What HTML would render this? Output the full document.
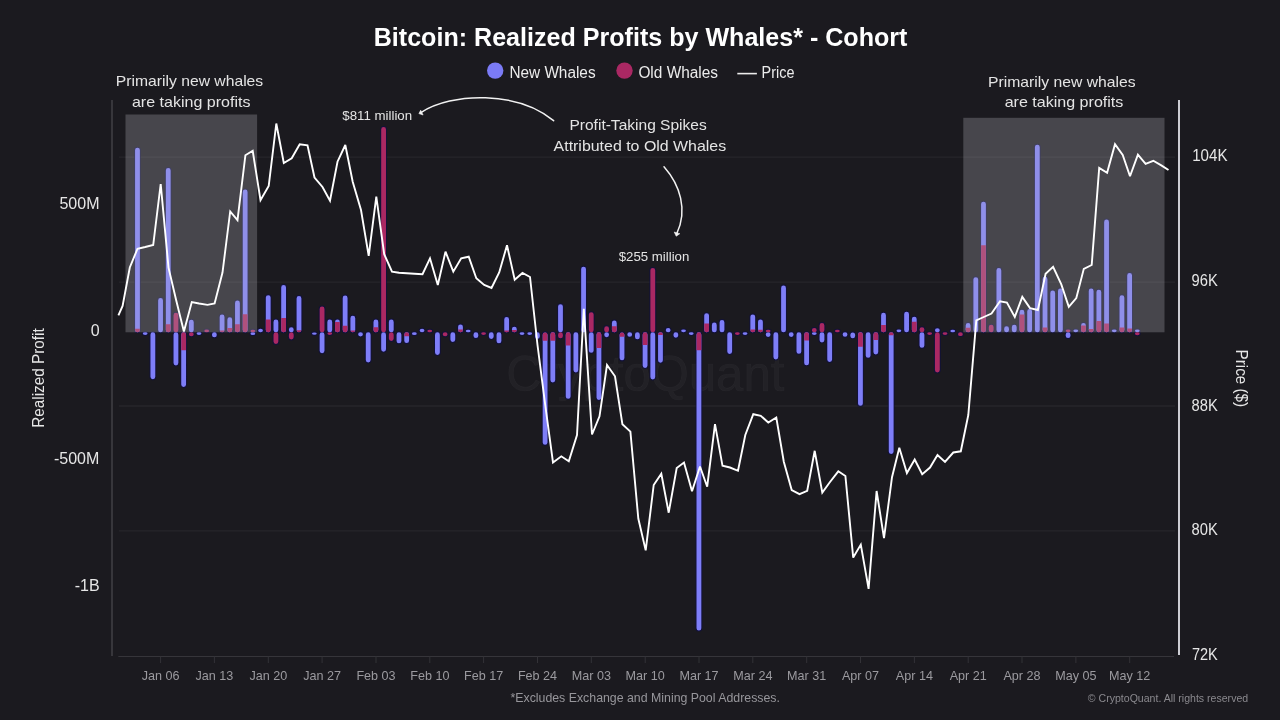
<!DOCTYPE html>
<html><head><meta charset="utf-8"><style>
html,body{margin:0;padding:0;background:#1b1a1f;}
svg{display:block;will-change:transform;}
text{font-family:"Liberation Sans", sans-serif;}
.xl{font-size:12.6px;fill:#9b9a9f;}
.yl{font-size:16px;fill:#e6e6e6;}
.an{font-size:15px;fill:#e4e4e4;}
</style></head><body>
<svg width="1280" height="720" viewBox="0 0 1280 720">
<rect width="1280" height="720" fill="#1b1a1f"/>
<!-- watermark -->
<text x="645.3" y="390.5" text-anchor="middle" font-size="50" fill="#ffffff" fill-opacity="0.03" stroke="#ffffff" stroke-opacity="0.03" stroke-width="0.7" textLength="278" lengthAdjust="spacingAndGlyphs">CryptoQuant</text>
<!-- gridlines -->
<g stroke="#232227" stroke-width="1.8">
<line x1="119" y1="157.2" x2="1175" y2="157.2"/>
<line x1="119" y1="282.1" x2="1175" y2="282.1"/>
<line x1="119" y1="406.0" x2="1175" y2="406.0"/>
<line x1="119" y1="530.8" x2="1175" y2="530.8"/>
</g>
<!-- axes -->
<line x1="112" y1="100" x2="112" y2="656" stroke="#3f3e43" stroke-width="1.6"/>
<line x1="1179" y1="100" x2="1179" y2="655" stroke="#e2e2e8" stroke-width="1.8"/>
<line x1="118.3" y1="656.5" x2="1174" y2="656.5" stroke="#36353a" stroke-width="1"/>
<line x1="160.6" y1="656.5" x2="160.6" y2="663" stroke="#333237" stroke-width="1"/><text x="160.6" y="679.8" text-anchor="middle" class="xl">Jan 06</text><line x1="214.4" y1="656.5" x2="214.4" y2="663" stroke="#333237" stroke-width="1"/><text x="214.4" y="679.8" text-anchor="middle" class="xl">Jan 13</text><line x1="268.3" y1="656.5" x2="268.3" y2="663" stroke="#333237" stroke-width="1"/><text x="268.3" y="679.8" text-anchor="middle" class="xl">Jan 20</text><line x1="322.1" y1="656.5" x2="322.1" y2="663" stroke="#333237" stroke-width="1"/><text x="322.1" y="679.8" text-anchor="middle" class="xl">Jan 27</text><line x1="376.0" y1="656.5" x2="376.0" y2="663" stroke="#333237" stroke-width="1"/><text x="376.0" y="679.8" text-anchor="middle" class="xl">Feb 03</text><line x1="429.8" y1="656.5" x2="429.8" y2="663" stroke="#333237" stroke-width="1"/><text x="429.8" y="679.8" text-anchor="middle" class="xl">Feb 10</text><line x1="483.6" y1="656.5" x2="483.6" y2="663" stroke="#333237" stroke-width="1"/><text x="483.6" y="679.8" text-anchor="middle" class="xl">Feb 17</text><line x1="537.5" y1="656.5" x2="537.5" y2="663" stroke="#333237" stroke-width="1"/><text x="537.5" y="679.8" text-anchor="middle" class="xl">Feb 24</text><line x1="591.3" y1="656.5" x2="591.3" y2="663" stroke="#333237" stroke-width="1"/><text x="591.3" y="679.8" text-anchor="middle" class="xl">Mar 03</text><line x1="645.2" y1="656.5" x2="645.2" y2="663" stroke="#333237" stroke-width="1"/><text x="645.2" y="679.8" text-anchor="middle" class="xl">Mar 10</text><line x1="699.0" y1="656.5" x2="699.0" y2="663" stroke="#333237" stroke-width="1"/><text x="699.0" y="679.8" text-anchor="middle" class="xl">Mar 17</text><line x1="752.8" y1="656.5" x2="752.8" y2="663" stroke="#333237" stroke-width="1"/><text x="752.8" y="679.8" text-anchor="middle" class="xl">Mar 24</text><line x1="806.7" y1="656.5" x2="806.7" y2="663" stroke="#333237" stroke-width="1"/><text x="806.7" y="679.8" text-anchor="middle" class="xl">Mar 31</text><line x1="860.5" y1="656.5" x2="860.5" y2="663" stroke="#333237" stroke-width="1"/><text x="860.5" y="679.8" text-anchor="middle" class="xl">Apr 07</text><line x1="914.4" y1="656.5" x2="914.4" y2="663" stroke="#333237" stroke-width="1"/><text x="914.4" y="679.8" text-anchor="middle" class="xl">Apr 14</text><line x1="968.2" y1="656.5" x2="968.2" y2="663" stroke="#333237" stroke-width="1"/><text x="968.2" y="679.8" text-anchor="middle" class="xl">Apr 21</text><line x1="1022.0" y1="656.5" x2="1022.0" y2="663" stroke="#333237" stroke-width="1"/><text x="1022.0" y="679.8" text-anchor="middle" class="xl">Apr 28</text><line x1="1075.9" y1="656.5" x2="1075.9" y2="663" stroke="#333237" stroke-width="1"/><text x="1075.9" y="679.8" text-anchor="middle" class="xl">May 05</text><line x1="1129.7" y1="656.5" x2="1129.7" y2="663" stroke="#333237" stroke-width="1"/><text x="1129.7" y="679.8" text-anchor="middle" class="xl">May 12</text>
<!-- bars -->
<g fill="#0e0e44" fill-opacity="0.7"><rect x="134.08" y="146.70" width="6.8" height="186.60" rx="3.4"/><rect x="141.77" y="331.30" width="6.8" height="4.60" rx="3.4"/><rect x="149.46" y="331.30" width="6.8" height="48.90" rx="3.4"/><rect x="157.16" y="297.00" width="6.8" height="36.30" rx="3.4"/><rect x="164.85" y="167.10" width="6.8" height="166.20" rx="3.4"/><rect x="172.54" y="311.80" width="6.8" height="21.50" rx="3.4"/><rect x="172.54" y="331.30" width="6.8" height="35.20" rx="3.4"/><rect x="180.23" y="331.30" width="6.8" height="56.60" rx="3.4"/><rect x="187.92" y="318.70" width="6.8" height="14.60" rx="3.4"/><rect x="187.92" y="331.30" width="6.8" height="5.90" rx="3.4"/><rect x="195.61" y="331.30" width="6.8" height="4.60" rx="3.4"/><rect x="203.30" y="328.50" width="6.8" height="4.80" rx="3.4"/><rect x="210.99" y="331.30" width="6.8" height="7.00" rx="3.4"/><rect x="218.68" y="313.60" width="6.8" height="19.70" rx="3.4"/><rect x="226.37" y="316.30" width="6.8" height="17.00" rx="3.4"/><rect x="234.06" y="299.50" width="6.8" height="33.80" rx="3.4"/><rect x="241.76" y="188.50" width="6.8" height="144.80" rx="3.4"/><rect x="249.45" y="328.70" width="6.8" height="4.60" rx="3.4"/><rect x="249.45" y="331.30" width="6.8" height="4.70" rx="3.4"/><rect x="257.14" y="327.80" width="6.8" height="5.50" rx="3.4"/><rect x="264.83" y="294.20" width="6.8" height="39.10" rx="3.4"/><rect x="272.52" y="318.60" width="6.8" height="14.70" rx="3.4"/><rect x="272.52" y="331.30" width="6.8" height="13.70" rx="3.4"/><rect x="280.21" y="284.00" width="6.8" height="49.30" rx="3.4"/><rect x="287.90" y="326.30" width="6.8" height="7.00" rx="3.4"/><rect x="287.90" y="331.30" width="6.8" height="9.20" rx="3.4"/><rect x="295.59" y="295.00" width="6.8" height="38.30" rx="3.4"/><rect x="310.98" y="331.30" width="6.8" height="4.60" rx="3.4"/><rect x="318.67" y="305.60" width="6.8" height="27.70" rx="3.4"/><rect x="318.67" y="331.30" width="6.8" height="22.90" rx="3.4"/><rect x="326.36" y="318.60" width="6.8" height="14.70" rx="3.4"/><rect x="326.36" y="331.30" width="6.8" height="4.60" rx="3.4"/><rect x="334.05" y="318.60" width="6.8" height="14.70" rx="3.4"/><rect x="341.74" y="294.60" width="6.8" height="38.70" rx="3.4"/><rect x="349.43" y="314.80" width="6.8" height="18.50" rx="3.4"/><rect x="357.12" y="331.30" width="6.8" height="6.10" rx="3.4"/><rect x="364.81" y="331.30" width="6.8" height="32.10" rx="3.4"/><rect x="372.50" y="318.60" width="6.8" height="14.70" rx="3.4"/><rect x="380.19" y="126.10" width="6.8" height="207.20" rx="3.4"/><rect x="380.19" y="331.30" width="6.8" height="21.40" rx="3.4"/><rect x="387.88" y="318.60" width="6.8" height="14.70" rx="3.4"/><rect x="387.88" y="331.30" width="6.8" height="10.70" rx="3.4"/><rect x="395.58" y="331.30" width="6.8" height="13.00" rx="3.4"/><rect x="403.27" y="331.30" width="6.8" height="12.80" rx="3.4"/><rect x="410.96" y="331.30" width="6.8" height="4.70" rx="3.4"/><rect x="418.65" y="327.80" width="6.8" height="5.50" rx="3.4"/><rect x="426.34" y="328.70" width="6.8" height="4.60" rx="3.4"/><rect x="434.03" y="331.30" width="6.8" height="24.70" rx="3.4"/><rect x="441.72" y="331.30" width="6.8" height="6.00" rx="3.4"/><rect x="449.41" y="331.30" width="6.8" height="11.60" rx="3.4"/><rect x="457.10" y="323.40" width="6.8" height="9.90" rx="3.4"/><rect x="464.79" y="328.70" width="6.8" height="4.60" rx="3.4"/><rect x="472.49" y="331.30" width="6.8" height="7.80" rx="3.4"/><rect x="480.18" y="331.30" width="6.8" height="4.60" rx="3.4"/><rect x="487.87" y="331.30" width="6.8" height="8.70" rx="3.4"/><rect x="495.56" y="331.30" width="6.8" height="13.00" rx="3.4"/><rect x="503.25" y="316.10" width="6.8" height="17.20" rx="3.4"/><rect x="510.94" y="325.70" width="6.8" height="7.60" rx="3.4"/><rect x="518.63" y="331.30" width="6.8" height="4.60" rx="3.4"/><rect x="526.32" y="331.30" width="6.8" height="4.60" rx="3.4"/><rect x="534.01" y="331.30" width="6.8" height="8.50" rx="3.4"/><rect x="541.71" y="331.30" width="6.8" height="114.70" rx="3.4"/><rect x="549.40" y="331.30" width="6.8" height="52.20" rx="3.4"/><rect x="557.09" y="303.20" width="6.8" height="30.10" rx="3.4"/><rect x="557.09" y="331.30" width="6.8" height="8.00" rx="3.4"/><rect x="564.78" y="331.30" width="6.8" height="68.50" rx="3.4"/><rect x="572.47" y="331.30" width="6.8" height="42.20" rx="3.4"/><rect x="580.16" y="265.70" width="6.8" height="67.60" rx="3.4"/><rect x="587.85" y="311.20" width="6.8" height="22.10" rx="3.4"/><rect x="587.85" y="331.30" width="6.8" height="22.50" rx="3.4"/><rect x="595.54" y="331.30" width="6.8" height="69.70" rx="3.4"/><rect x="603.23" y="325.30" width="6.8" height="8.00" rx="3.4"/><rect x="603.23" y="331.30" width="6.8" height="6.90" rx="3.4"/><rect x="610.92" y="319.50" width="6.8" height="13.80" rx="3.4"/><rect x="618.62" y="331.30" width="6.8" height="30.20" rx="3.4"/><rect x="626.31" y="331.30" width="6.8" height="6.40" rx="3.4"/><rect x="634.00" y="331.30" width="6.8" height="9.00" rx="3.4"/><rect x="641.69" y="331.30" width="6.8" height="37.70" rx="3.4"/><rect x="649.38" y="266.90" width="6.8" height="66.40" rx="3.4"/><rect x="649.38" y="331.30" width="6.8" height="49.20" rx="3.4"/><rect x="657.07" y="331.30" width="6.8" height="32.40" rx="3.4"/><rect x="664.76" y="327.10" width="6.8" height="6.20" rx="3.4"/><rect x="672.45" y="331.30" width="6.8" height="7.40" rx="3.4"/><rect x="680.14" y="328.40" width="6.8" height="4.90" rx="3.4"/><rect x="687.83" y="331.30" width="6.8" height="4.60" rx="3.4"/><rect x="695.52" y="331.30" width="6.8" height="300.30" rx="3.4"/><rect x="703.22" y="312.20" width="6.8" height="21.10" rx="3.4"/><rect x="710.91" y="321.60" width="6.8" height="11.70" rx="3.4"/><rect x="718.60" y="319.00" width="6.8" height="14.30" rx="3.4"/><rect x="726.29" y="331.30" width="6.8" height="23.60" rx="3.4"/><rect x="733.98" y="331.30" width="6.8" height="4.60" rx="3.4"/><rect x="741.67" y="331.30" width="6.8" height="4.60" rx="3.4"/><rect x="749.36" y="313.40" width="6.8" height="19.90" rx="3.4"/><rect x="757.05" y="318.40" width="6.8" height="14.90" rx="3.4"/><rect x="764.74" y="328.70" width="6.8" height="4.60" rx="3.4"/><rect x="764.74" y="331.30" width="6.8" height="6.60" rx="3.4"/><rect x="772.44" y="331.30" width="6.8" height="29.10" rx="3.4"/><rect x="780.13" y="284.60" width="6.8" height="48.70" rx="3.4"/><rect x="787.82" y="331.30" width="6.8" height="6.60" rx="3.4"/><rect x="795.51" y="331.30" width="6.8" height="23.50" rx="3.4"/><rect x="803.20" y="331.30" width="6.8" height="35.00" rx="3.4"/><rect x="810.89" y="327.10" width="6.8" height="6.20" rx="3.4"/><rect x="810.89" y="331.30" width="6.8" height="4.60" rx="3.4"/><rect x="818.58" y="322.10" width="6.8" height="11.20" rx="3.4"/><rect x="818.58" y="331.30" width="6.8" height="12.20" rx="3.4"/><rect x="826.27" y="331.30" width="6.8" height="31.60" rx="3.4"/><rect x="833.96" y="328.70" width="6.8" height="4.60" rx="3.4"/><rect x="841.65" y="331.30" width="6.8" height="6.50" rx="3.4"/><rect x="849.35" y="331.30" width="6.8" height="8.00" rx="3.4"/><rect x="857.04" y="331.30" width="6.8" height="75.50" rx="3.4"/><rect x="864.73" y="331.30" width="6.8" height="27.50" rx="3.4"/><rect x="872.42" y="331.30" width="6.8" height="24.10" rx="3.4"/><rect x="880.11" y="311.80" width="6.8" height="21.50" rx="3.4"/><rect x="887.80" y="331.30" width="6.8" height="123.70" rx="3.4"/><rect x="895.49" y="328.40" width="6.8" height="4.90" rx="3.4"/><rect x="903.18" y="310.70" width="6.8" height="22.60" rx="3.4"/><rect x="910.87" y="315.70" width="6.8" height="17.60" rx="3.4"/><rect x="918.56" y="326.20" width="6.8" height="7.10" rx="3.4"/><rect x="918.56" y="331.30" width="6.8" height="17.50" rx="3.4"/><rect x="926.25" y="331.30" width="6.8" height="4.60" rx="3.4"/><rect x="933.95" y="327.30" width="6.8" height="6.00" rx="3.4"/><rect x="933.95" y="331.30" width="6.8" height="42.20" rx="3.4"/><rect x="941.64" y="331.30" width="6.8" height="4.60" rx="3.4"/><rect x="949.33" y="328.70" width="6.8" height="4.60" rx="3.4"/><rect x="957.02" y="331.30" width="6.8" height="5.70" rx="3.4"/><rect x="964.71" y="322.10" width="6.8" height="11.20" rx="3.4"/><rect x="972.40" y="276.20" width="6.8" height="57.10" rx="3.4"/><rect x="980.09" y="200.70" width="6.8" height="132.60" rx="3.4"/><rect x="987.78" y="323.70" width="6.8" height="9.60" rx="3.4"/><rect x="995.47" y="267.00" width="6.8" height="66.30" rx="3.4"/><rect x="1003.17" y="325.30" width="6.8" height="8.00" rx="3.4"/><rect x="1010.86" y="323.70" width="6.8" height="9.60" rx="3.4"/><rect x="1018.55" y="308.80" width="6.8" height="24.50" rx="3.4"/><rect x="1026.24" y="308.00" width="6.8" height="25.30" rx="3.4"/><rect x="1033.93" y="143.70" width="6.8" height="189.60" rx="3.4"/><rect x="1041.62" y="275.80" width="6.8" height="57.50" rx="3.4"/><rect x="1049.31" y="289.50" width="6.8" height="43.80" rx="3.4"/><rect x="1057.00" y="287.50" width="6.8" height="45.80" rx="3.4"/><rect x="1064.69" y="328.40" width="6.8" height="4.90" rx="3.4"/><rect x="1064.69" y="331.30" width="6.8" height="7.80" rx="3.4"/><rect x="1072.38" y="328.40" width="6.8" height="4.90" rx="3.4"/><rect x="1080.07" y="322.00" width="6.8" height="11.30" rx="3.4"/><rect x="1087.77" y="287.50" width="6.8" height="45.80" rx="3.4"/><rect x="1095.46" y="288.70" width="6.8" height="44.60" rx="3.4"/><rect x="1103.15" y="218.50" width="6.8" height="114.80" rx="3.4"/><rect x="1110.84" y="328.40" width="6.8" height="4.90" rx="3.4"/><rect x="1118.53" y="294.30" width="6.8" height="39.00" rx="3.4"/><rect x="1126.22" y="272.00" width="6.8" height="61.30" rx="3.4"/><rect x="1133.91" y="328.40" width="6.8" height="4.90" rx="3.4"/><rect x="1133.91" y="331.30" width="6.8" height="4.90" rx="3.4"/></g>
<g><path d="M135.08,150.10A2.4,2.40 0 0 1 139.88,150.10V329.90A2.4,2.40 0 0 1 135.08,329.90Z M142.77,333.60A2.4,1.30 0 0 1 147.57,333.60V333.60A2.4,1.30 0 0 1 142.77,333.60Z M150.46,334.70A2.4,2.40 0 0 1 155.26,334.70V376.80A2.4,2.40 0 0 1 150.46,376.80Z M158.16,300.40A2.4,2.40 0 0 1 162.96,300.40V329.90A2.4,2.40 0 0 1 158.16,329.90Z M165.85,170.50A2.4,2.40 0 0 1 170.65,170.50V329.90A2.4,2.40 0 0 1 165.85,329.90Z M173.54,334.70A2.4,2.40 0 0 1 178.34,334.70V363.10A2.4,2.40 0 0 1 173.54,363.10Z M181.23,334.70A2.4,2.40 0 0 1 186.03,334.70V384.50A2.4,2.40 0 0 1 181.23,384.50Z M188.92,322.10A2.4,2.40 0 0 1 193.72,322.10V329.90A2.4,2.40 0 0 1 188.92,329.90Z M196.61,333.60A2.4,1.30 0 0 1 201.41,333.60V333.60A2.4,1.30 0 0 1 196.61,333.60Z M211.99,334.70A2.4,2.40 0 0 1 216.79,334.70V334.90A2.4,2.40 0 0 1 211.99,334.90Z M219.68,317.00A2.4,2.40 0 0 1 224.48,317.00V329.90A2.4,2.40 0 0 1 219.68,329.90Z M227.37,319.70A2.4,2.40 0 0 1 232.17,319.70V329.90A2.4,2.40 0 0 1 227.37,329.90Z M235.06,302.90A2.4,2.40 0 0 1 239.86,302.90V329.90A2.4,2.40 0 0 1 235.06,329.90Z M242.76,191.90A2.4,2.40 0 0 1 247.56,191.90V329.90A2.4,2.40 0 0 1 242.76,329.90Z M250.45,333.65A2.4,1.35 0 0 1 255.25,333.65V333.65A2.4,1.35 0 0 1 250.45,333.65Z M258.14,330.55A2.4,1.75 0 0 1 262.94,330.55V330.55A2.4,1.75 0 0 1 258.14,330.55Z M265.83,297.60A2.4,2.40 0 0 1 270.63,297.60V329.90A2.4,2.40 0 0 1 265.83,329.90Z M273.52,322.00A2.4,2.40 0 0 1 278.32,322.00V329.90A2.4,2.40 0 0 1 273.52,329.90Z M281.21,287.40A2.4,2.40 0 0 1 286.01,287.40V329.90A2.4,2.40 0 0 1 281.21,329.90Z M288.90,329.70A2.4,2.40 0 0 1 293.70,329.70V329.90A2.4,2.40 0 0 1 288.90,329.90Z M296.59,298.40A2.4,2.40 0 0 1 301.39,298.40V329.90A2.4,2.40 0 0 1 296.59,329.90Z M311.98,333.60A2.4,1.30 0 0 1 316.77,333.60V333.60A2.4,1.30 0 0 1 311.98,333.60Z M319.67,334.70A2.4,2.40 0 0 1 324.47,334.70V350.80A2.4,2.40 0 0 1 319.67,350.80Z M327.36,322.00A2.4,2.40 0 0 1 332.16,322.00V329.90A2.4,2.40 0 0 1 327.36,329.90Z M335.05,322.00A2.4,2.40 0 0 1 339.85,322.00V329.90A2.4,2.40 0 0 1 335.05,329.90Z M342.74,298.00A2.4,2.40 0 0 1 347.54,298.00V329.90A2.4,2.40 0 0 1 342.74,329.90Z M350.43,318.20A2.4,2.40 0 0 1 355.23,318.20V329.90A2.4,2.40 0 0 1 350.43,329.90Z M358.12,334.35A2.4,2.05 0 0 1 362.92,334.35V334.35A2.4,2.05 0 0 1 358.12,334.35Z M365.81,334.70A2.4,2.40 0 0 1 370.61,334.70V360.00A2.4,2.40 0 0 1 365.81,360.00Z M373.50,322.00A2.4,2.40 0 0 1 378.30,322.00V329.90A2.4,2.40 0 0 1 373.50,329.90Z M381.19,334.70A2.4,2.40 0 0 1 385.99,334.70V349.30A2.4,2.40 0 0 1 381.19,349.30Z M388.88,322.00A2.4,2.40 0 0 1 393.68,322.00V329.90A2.4,2.40 0 0 1 388.88,329.90Z M396.58,334.70A2.4,2.40 0 0 1 401.38,334.70V340.90A2.4,2.40 0 0 1 396.58,340.90Z M404.27,334.70A2.4,2.40 0 0 1 409.07,334.70V340.70A2.4,2.40 0 0 1 404.27,340.70Z M411.96,333.65A2.4,1.35 0 0 1 416.76,333.65V333.65A2.4,1.35 0 0 1 411.96,333.65Z M419.65,330.55A2.4,1.75 0 0 1 424.45,330.55V330.55A2.4,1.75 0 0 1 419.65,330.55Z M435.03,334.70A2.4,2.40 0 0 1 439.83,334.70V352.60A2.4,2.40 0 0 1 435.03,352.60Z M450.41,334.70A2.4,2.40 0 0 1 455.21,334.70V339.50A2.4,2.40 0 0 1 450.41,339.50Z M458.10,326.80A2.4,2.40 0 0 1 462.90,326.80V329.90A2.4,2.40 0 0 1 458.10,329.90Z M465.79,331.00A2.4,1.30 0 0 1 470.59,331.00V331.00A2.4,1.30 0 0 1 465.79,331.00Z M473.49,334.70A2.4,2.40 0 0 1 478.29,334.70V335.70A2.4,2.40 0 0 1 473.49,335.70Z M488.87,334.70A2.4,2.40 0 0 1 493.67,334.70V336.60A2.4,2.40 0 0 1 488.87,336.60Z M496.56,334.70A2.4,2.40 0 0 1 501.36,334.70V340.90A2.4,2.40 0 0 1 496.56,340.90Z M504.25,319.50A2.4,2.40 0 0 1 509.05,319.50V329.90A2.4,2.40 0 0 1 504.25,329.90Z M511.94,329.10A2.4,2.40 0 0 1 516.74,329.10V329.90A2.4,2.40 0 0 1 511.94,329.90Z M519.63,333.60A2.4,1.30 0 0 1 524.43,333.60V333.60A2.4,1.30 0 0 1 519.63,333.60Z M527.32,333.60A2.4,1.30 0 0 1 532.12,333.60V333.60A2.4,1.30 0 0 1 527.32,333.60Z M535.01,334.70A2.4,2.40 0 0 1 539.81,334.70V336.40A2.4,2.40 0 0 1 535.01,336.40Z M542.71,334.70A2.4,2.40 0 0 1 547.50,334.70V442.60A2.4,2.40 0 0 1 542.71,442.60Z M550.40,334.70A2.4,2.40 0 0 1 555.20,334.70V380.10A2.4,2.40 0 0 1 550.40,380.10Z M558.09,306.60A2.4,2.40 0 0 1 562.89,306.60V329.90A2.4,2.40 0 0 1 558.09,329.90Z M565.78,334.70A2.4,2.40 0 0 1 570.58,334.70V396.40A2.4,2.40 0 0 1 565.78,396.40Z M573.47,334.70A2.4,2.40 0 0 1 578.27,334.70V370.10A2.4,2.40 0 0 1 573.47,370.10Z M581.16,269.10A2.4,2.40 0 0 1 585.96,269.10V329.90A2.4,2.40 0 0 1 581.16,329.90Z M588.85,334.70A2.4,2.40 0 0 1 593.65,334.70V350.40A2.4,2.40 0 0 1 588.85,350.40Z M596.54,334.70A2.4,2.40 0 0 1 601.34,334.70V397.60A2.4,2.40 0 0 1 596.54,397.60Z M604.23,334.70A2.4,2.40 0 0 1 609.03,334.70V334.80A2.4,2.40 0 0 1 604.23,334.80Z M611.92,322.90A2.4,2.40 0 0 1 616.72,322.90V329.90A2.4,2.40 0 0 1 611.92,329.90Z M619.62,334.70A2.4,2.40 0 0 1 624.41,334.70V358.10A2.4,2.40 0 0 1 619.62,358.10Z M627.31,334.50A2.4,2.20 0 0 1 632.11,334.50V334.50A2.4,2.20 0 0 1 627.31,334.50Z M635.00,334.70A2.4,2.40 0 0 1 639.80,334.70V336.90A2.4,2.40 0 0 1 635.00,336.90Z M642.69,334.70A2.4,2.40 0 0 1 647.49,334.70V365.60A2.4,2.40 0 0 1 642.69,365.60Z M650.38,334.70A2.4,2.40 0 0 1 655.18,334.70V377.10A2.4,2.40 0 0 1 650.38,377.10Z M658.07,334.70A2.4,2.40 0 0 1 662.87,334.70V360.30A2.4,2.40 0 0 1 658.07,360.30Z M665.76,330.20A2.4,2.10 0 0 1 670.56,330.20V330.20A2.4,2.10 0 0 1 665.76,330.20Z M673.45,334.70A2.4,2.40 0 0 1 678.25,334.70V335.30A2.4,2.40 0 0 1 673.45,335.30Z M681.14,330.85A2.4,1.45 0 0 1 685.94,330.85V330.85A2.4,1.45 0 0 1 681.14,330.85Z M688.83,333.60A2.4,1.30 0 0 1 693.63,333.60V333.60A2.4,1.30 0 0 1 688.83,333.60Z M696.52,334.70A2.4,2.40 0 0 1 701.32,334.70V628.20A2.4,2.40 0 0 1 696.52,628.20Z M704.22,315.60A2.4,2.40 0 0 1 709.02,315.60V329.90A2.4,2.40 0 0 1 704.22,329.90Z M711.91,325.00A2.4,2.40 0 0 1 716.71,325.00V329.90A2.4,2.40 0 0 1 711.91,329.90Z M719.60,322.40A2.4,2.40 0 0 1 724.40,322.40V329.90A2.4,2.40 0 0 1 719.60,329.90Z M727.29,334.70A2.4,2.40 0 0 1 732.09,334.70V351.50A2.4,2.40 0 0 1 727.29,351.50Z M742.67,333.60A2.4,1.30 0 0 1 747.47,333.60V333.60A2.4,1.30 0 0 1 742.67,333.60Z M750.36,316.80A2.4,2.40 0 0 1 755.16,316.80V329.90A2.4,2.40 0 0 1 750.36,329.90Z M758.05,321.80A2.4,2.40 0 0 1 762.85,321.80V329.90A2.4,2.40 0 0 1 758.05,329.90Z M765.74,334.60A2.4,2.30 0 0 1 770.54,334.60V334.60A2.4,2.30 0 0 1 765.74,334.60Z M773.44,334.70A2.4,2.40 0 0 1 778.24,334.70V357.00A2.4,2.40 0 0 1 773.44,357.00Z M781.13,288.00A2.4,2.40 0 0 1 785.93,288.00V329.90A2.4,2.40 0 0 1 781.13,329.90Z M788.82,334.60A2.4,2.30 0 0 1 793.62,334.60V334.60A2.4,2.30 0 0 1 788.82,334.60Z M796.51,334.70A2.4,2.40 0 0 1 801.31,334.70V351.40A2.4,2.40 0 0 1 796.51,351.40Z M804.20,334.70A2.4,2.40 0 0 1 809.00,334.70V362.90A2.4,2.40 0 0 1 804.20,362.90Z M811.89,333.60A2.4,1.30 0 0 1 816.69,333.60V333.60A2.4,1.30 0 0 1 811.89,333.60Z M819.58,334.70A2.4,2.40 0 0 1 824.38,334.70V340.10A2.4,2.40 0 0 1 819.58,340.10Z M827.27,334.70A2.4,2.40 0 0 1 832.07,334.70V359.50A2.4,2.40 0 0 1 827.27,359.50Z M842.65,334.55A2.4,2.25 0 0 1 847.45,334.55V334.55A2.4,2.25 0 0 1 842.65,334.55Z M850.35,334.70A2.4,2.40 0 0 1 855.14,334.70V335.90A2.4,2.40 0 0 1 850.35,335.90Z M858.04,334.70A2.4,2.40 0 0 1 862.84,334.70V403.40A2.4,2.40 0 0 1 858.04,403.40Z M865.73,334.70A2.4,2.40 0 0 1 870.53,334.70V355.40A2.4,2.40 0 0 1 865.73,355.40Z M873.42,334.70A2.4,2.40 0 0 1 878.22,334.70V352.00A2.4,2.40 0 0 1 873.42,352.00Z M881.11,315.20A2.4,2.40 0 0 1 885.91,315.20V329.90A2.4,2.40 0 0 1 881.11,329.90Z M888.80,334.70A2.4,2.40 0 0 1 893.60,334.70V451.60A2.4,2.40 0 0 1 888.80,451.60Z M896.49,330.85A2.4,1.45 0 0 1 901.29,330.85V330.85A2.4,1.45 0 0 1 896.49,330.85Z M904.18,314.10A2.4,2.40 0 0 1 908.98,314.10V329.90A2.4,2.40 0 0 1 904.18,329.90Z M911.87,319.10A2.4,2.40 0 0 1 916.67,319.10V329.90A2.4,2.40 0 0 1 911.87,329.90Z M919.56,334.70A2.4,2.40 0 0 1 924.36,334.70V345.40A2.4,2.40 0 0 1 919.56,345.40Z M934.95,330.30A2.4,2.00 0 0 1 939.75,330.30V330.30A2.4,2.00 0 0 1 934.95,330.30Z M950.33,331.00A2.4,1.30 0 0 1 955.13,331.00V331.00A2.4,1.30 0 0 1 950.33,331.00Z M965.71,325.50A2.4,2.40 0 0 1 970.51,325.50V329.90A2.4,2.40 0 0 1 965.71,329.90Z M973.40,279.60A2.4,2.40 0 0 1 978.20,279.60V329.90A2.4,2.40 0 0 1 973.40,329.90Z M981.09,204.10A2.4,2.40 0 0 1 985.89,204.10V329.90A2.4,2.40 0 0 1 981.09,329.90Z M996.47,270.40A2.4,2.40 0 0 1 1001.27,270.40V329.90A2.4,2.40 0 0 1 996.47,329.90Z M1004.17,328.70A2.4,2.40 0 0 1 1008.97,328.70V329.90A2.4,2.40 0 0 1 1004.17,329.90Z M1011.86,327.10A2.4,2.40 0 0 1 1016.66,327.10V329.90A2.4,2.40 0 0 1 1011.86,329.90Z M1019.55,312.20A2.4,2.40 0 0 1 1024.35,312.20V329.90A2.4,2.40 0 0 1 1019.55,329.90Z M1027.24,311.40A2.4,2.40 0 0 1 1032.04,311.40V329.90A2.4,2.40 0 0 1 1027.24,329.90Z M1034.93,147.10A2.4,2.40 0 0 1 1039.73,147.10V329.90A2.4,2.40 0 0 1 1034.93,329.90Z M1042.62,279.20A2.4,2.40 0 0 1 1047.42,279.20V329.90A2.4,2.40 0 0 1 1042.62,329.90Z M1050.31,292.90A2.4,2.40 0 0 1 1055.11,292.90V329.90A2.4,2.40 0 0 1 1050.31,329.90Z M1058.00,290.90A2.4,2.40 0 0 1 1062.80,290.90V329.90A2.4,2.40 0 0 1 1058.00,329.90Z M1065.69,334.70A2.4,2.40 0 0 1 1070.49,334.70V335.70A2.4,2.40 0 0 1 1065.69,335.70Z M1073.38,330.85A2.4,1.45 0 0 1 1078.18,330.85V330.85A2.4,1.45 0 0 1 1073.38,330.85Z M1081.07,325.40A2.4,2.40 0 0 1 1085.88,325.40V329.90A2.4,2.40 0 0 1 1081.07,329.90Z M1088.77,290.90A2.4,2.40 0 0 1 1093.57,290.90V329.90A2.4,2.40 0 0 1 1088.77,329.90Z M1096.46,292.10A2.4,2.40 0 0 1 1101.26,292.10V329.90A2.4,2.40 0 0 1 1096.46,329.90Z M1104.15,221.90A2.4,2.40 0 0 1 1108.95,221.90V329.90A2.4,2.40 0 0 1 1104.15,329.90Z M1111.84,330.85A2.4,1.45 0 0 1 1116.64,330.85V330.85A2.4,1.45 0 0 1 1111.84,330.85Z M1119.53,297.70A2.4,2.40 0 0 1 1124.33,297.70V329.90A2.4,2.40 0 0 1 1119.53,329.90Z M1127.22,275.40A2.4,2.40 0 0 1 1132.02,275.40V329.90A2.4,2.40 0 0 1 1127.22,329.90Z M1134.91,330.85A2.4,1.45 0 0 1 1139.71,330.85V330.85A2.4,1.45 0 0 1 1134.91,330.85Z" fill="#7e7ef8"/></g>
<g><path d="M135.08,328.70H139.88V329.90A2.4,2.40 0 0 1 135.08,329.90Z M165.85,324.30H170.65V329.90A2.4,2.40 0 0 1 165.85,329.90Z M173.54,315.20A2.4,2.40 0 0 1 178.34,315.20V329.90A2.4,2.40 0 0 1 173.54,329.90Z M181.23,334.70A2.4,2.40 0 0 1 186.03,334.70V350.20H181.23Z M188.92,334.25A2.4,1.95 0 0 1 193.72,334.25V334.25A2.4,1.95 0 0 1 188.92,334.25Z M204.30,330.90A2.4,1.40 0 0 1 209.10,330.90V330.90A2.4,1.40 0 0 1 204.30,330.90Z M219.68,330.50H224.48V330.50A2.4,1.80 0 0 1 219.68,330.50Z M227.37,328.00H232.17V329.90A2.4,2.40 0 0 1 227.37,329.90Z M235.06,324.20H239.86V329.90A2.4,2.40 0 0 1 235.06,329.90Z M242.76,314.30H247.56V329.90A2.4,2.40 0 0 1 242.76,329.90Z M250.45,331.00A2.4,1.30 0 0 1 255.25,331.00V331.00A2.4,1.30 0 0 1 250.45,331.00Z M265.83,319.60H270.63V329.90A2.4,2.40 0 0 1 265.83,329.90Z M273.52,334.70A2.4,2.40 0 0 1 278.32,334.70V341.60A2.4,2.40 0 0 1 273.52,341.60Z M281.21,318.10H286.01V329.90A2.4,2.40 0 0 1 281.21,329.90Z M288.90,334.70A2.4,2.40 0 0 1 293.70,334.70V337.10A2.4,2.40 0 0 1 288.90,337.10Z M296.59,330.30H301.39V330.30A2.4,2.00 0 0 1 296.59,330.30Z M319.67,309.00A2.4,2.40 0 0 1 324.47,309.00V329.90A2.4,2.40 0 0 1 319.67,329.90Z M327.36,333.60A2.4,1.30 0 0 1 332.16,333.60V333.60A2.4,1.30 0 0 1 327.36,333.60Z M335.05,321.90H339.85V329.90A2.4,2.40 0 0 1 335.05,329.90Z M342.74,325.70H347.54V329.90A2.4,2.40 0 0 1 342.74,329.90Z M350.43,330.50H355.23V330.50A2.4,1.80 0 0 1 350.43,330.50Z M373.50,327.30H378.30V329.90A2.4,2.40 0 0 1 373.50,329.90Z M381.19,129.50A2.4,2.40 0 0 1 385.99,129.50V329.90A2.4,2.40 0 0 1 381.19,329.90Z M388.88,334.70A2.4,2.40 0 0 1 393.68,334.70V338.60A2.4,2.40 0 0 1 388.88,338.60Z M404.27,334.70A2.4,2.40 0 0 1 409.07,334.70V336.30H404.27Z M427.34,331.00A2.4,1.30 0 0 1 432.14,331.00V331.00A2.4,1.30 0 0 1 427.34,331.00Z M442.72,334.30A2.4,2.00 0 0 1 447.52,334.30V334.30A2.4,2.00 0 0 1 442.72,334.30Z M458.10,329.40H462.90V329.90A2.4,2.40 0 0 1 458.10,329.90Z M481.18,333.60A2.4,1.30 0 0 1 485.98,333.60V333.60A2.4,1.30 0 0 1 481.18,333.60Z M504.25,330.40H509.05V330.40A2.4,1.90 0 0 1 504.25,330.40Z M511.94,330.00H516.74V330.00A2.4,2.30 0 0 1 511.94,330.00Z M542.71,334.70A2.4,2.40 0 0 1 547.50,334.70V340.80H542.71Z M550.40,334.70A2.4,2.40 0 0 1 555.20,334.70V340.80H550.40Z M558.09,334.70A2.4,2.40 0 0 1 562.89,334.70V335.90A2.4,2.40 0 0 1 558.09,335.90Z M565.78,334.70A2.4,2.40 0 0 1 570.58,334.70V345.50H565.78Z M588.85,314.60A2.4,2.40 0 0 1 593.65,314.60V329.90A2.4,2.40 0 0 1 588.85,329.90Z M596.54,334.70A2.4,2.40 0 0 1 601.34,334.70V348.10H596.54Z M604.23,328.70A2.4,2.40 0 0 1 609.03,328.70V329.90A2.4,2.40 0 0 1 604.23,329.90Z M611.92,326.30H616.72V329.90A2.4,2.40 0 0 1 611.92,329.90Z M619.62,334.70A2.4,2.40 0 0 1 624.41,334.70V336.70H619.62Z M642.69,334.70A2.4,2.40 0 0 1 647.49,334.70V345.00H642.69Z M650.38,270.30A2.4,2.40 0 0 1 655.18,270.30V329.90A2.4,2.40 0 0 1 650.38,329.90Z M658.07,334.70A2.4,2.40 0 0 1 662.87,334.70V335.10H658.07Z M696.52,334.70A2.4,2.40 0 0 1 701.32,334.70V350.20H696.52Z M704.22,323.60H709.02V329.90A2.4,2.40 0 0 1 704.22,329.90Z M734.98,333.60A2.4,1.30 0 0 1 739.78,333.60V333.60A2.4,1.30 0 0 1 734.98,333.60Z M750.36,329.40H755.16V329.90A2.4,2.40 0 0 1 750.36,329.90Z M758.05,329.80H762.85V329.90A2.4,2.40 0 0 1 758.05,329.90Z M765.74,331.00A2.4,1.30 0 0 1 770.54,331.00V331.00A2.4,1.30 0 0 1 765.74,331.00Z M804.20,334.70A2.4,2.40 0 0 1 809.00,334.70V340.60H804.20Z M811.89,330.20A2.4,2.10 0 0 1 816.69,330.20V330.20A2.4,2.10 0 0 1 811.89,330.20Z M819.58,325.50A2.4,2.40 0 0 1 824.38,325.50V329.90A2.4,2.40 0 0 1 819.58,329.90Z M834.96,331.00A2.4,1.30 0 0 1 839.76,331.00V331.00A2.4,1.30 0 0 1 834.96,331.00Z M858.04,334.70A2.4,2.40 0 0 1 862.84,334.70V346.70H858.04Z M873.42,334.70A2.4,2.40 0 0 1 878.22,334.70V340.00H873.42Z M881.11,325.00H885.91V329.90A2.4,2.40 0 0 1 881.11,329.90Z M888.80,334.70A2.4,2.40 0 0 1 893.60,334.70V335.30H888.80Z M911.87,321.70H916.67V329.90A2.4,2.40 0 0 1 911.87,329.90Z M919.56,329.60A2.4,2.40 0 0 1 924.36,329.60V329.90A2.4,2.40 0 0 1 919.56,329.90Z M927.25,333.60A2.4,1.30 0 0 1 932.05,333.60V333.60A2.4,1.30 0 0 1 927.25,333.60Z M934.95,334.70A2.4,2.40 0 0 1 939.75,334.70V370.10A2.4,2.40 0 0 1 934.95,370.10Z M942.64,333.60A2.4,1.30 0 0 1 947.44,333.60V333.60A2.4,1.30 0 0 1 942.64,333.60Z M958.02,334.15A2.4,1.85 0 0 1 962.82,334.15V334.15A2.4,1.85 0 0 1 958.02,334.15Z M965.71,327.80H970.51V329.90A2.4,2.40 0 0 1 965.71,329.90Z M981.09,245.20H985.89V329.90A2.4,2.40 0 0 1 981.09,329.90Z M988.78,327.10A2.4,2.40 0 0 1 993.58,327.10V329.90A2.4,2.40 0 0 1 988.78,329.90Z M1019.55,314.50H1024.35V329.90A2.4,2.40 0 0 1 1019.55,329.90Z M1042.62,327.40H1047.42V329.90A2.4,2.40 0 0 1 1042.62,329.90Z M1065.69,330.85A2.4,1.45 0 0 1 1070.49,330.85V330.85A2.4,1.45 0 0 1 1065.69,330.85Z M1081.07,325.50H1085.88V329.90A2.4,2.40 0 0 1 1081.07,329.90Z M1088.77,329.00H1093.57V329.90A2.4,2.40 0 0 1 1088.77,329.90Z M1096.46,321.00H1101.26V329.90A2.4,2.40 0 0 1 1096.46,329.90Z M1104.15,323.50H1108.95V329.90A2.4,2.40 0 0 1 1104.15,329.90Z M1119.53,327.40H1124.33V329.90A2.4,2.40 0 0 1 1119.53,329.90Z M1127.22,328.40H1132.02V329.90A2.4,2.40 0 0 1 1127.22,329.90Z M1134.91,333.75A2.4,1.45 0 0 1 1139.71,333.75V333.75A2.4,1.45 0 0 1 1134.91,333.75Z" fill="#aa2863"/></g>
<!-- highlight boxes -->
<rect x="125.5" y="114.5" width="131.6" height="217.8" fill="#bfbfc3" fill-opacity="0.275"/>
<rect x="963.3" y="117.8" width="201.2" height="214.5" fill="#bfbfc3" fill-opacity="0.275"/>
<!-- price line -->
<polyline points="118.4,315.3 122.6,306.0 129.8,267.5 137.5,248.7 145.2,247.0 153.2,245.0 160.7,184.0 168.5,267.6 176.0,299.5 183.9,331.5 191.8,302.0 199.1,303.5 207.5,304.9 214.6,303.5 222.5,272.5 230.2,211.5 237.5,220.2 245.4,155.2 252.7,150.8 260.5,200.2 268.7,186.0 276.3,123.5 283.8,163.0 291.7,158.3 299.7,144.2 307.5,145.3 314.5,177.5 322.5,187.0 330.0,200.8 337.5,161.7 345.3,145.0 352.7,181.7 361.0,210.0 368.7,255.8 376.3,196.7 384.2,254.2 392.0,271.7 399.0,272.8 406.7,273.3 414.4,273.7 422.5,274.2 430.0,258.3 437.8,285.0 445.5,251.7 453.3,271.7 461.2,258.3 468.7,256.7 476.3,278.3 484.2,285.0 491.5,288.0 499.2,272.5 507.0,245.3 514.7,279.7 522.5,273.0 530.0,277.0 537.5,345.0 545.1,404.0 553.0,462.5 561.3,456.3 568.8,461.3 577.0,435.0 583.8,308.8 592.0,434.5 599.5,416.3 607.0,365.0 615.0,376.3 622.4,424.2 630.4,431.6 638.3,518.5 645.7,550.4 653.7,485.0 661.3,473.8 668.7,512.7 676.7,468.0 684.0,462.6 692.0,491.3 700.0,466.5 707.2,486.7 715.0,424.2 722.5,465.8 730.0,467.5 738.0,470.8 745.3,435.0 753.3,414.2 760.8,415.8 768.3,422.5 776.3,417.5 783.8,461.7 791.7,490.0 799.5,494.2 807.2,490.8 814.7,450.8 822.3,492.6 830.0,482.0 838.3,471.3 845.4,476.0 853.2,557.6 860.8,544.6 868.6,588.8 876.6,491.0 884.0,538.2 892.0,477.2 899.3,447.7 906.9,473.0 914.7,459.5 922.2,474.2 930.0,467.6 937.5,455.0 945.0,462.0 953.3,452.5 960.8,451.3 968.3,415.0 976.3,320.5 983.8,317.0 991.5,313.5 1000.0,301.3 1006.9,302.5 1014.8,316.9 1022.3,296.9 1030.0,308.1 1037.9,310.0 1045.6,273.8 1053.1,266.9 1061.3,284.4 1068.8,306.9 1076.3,298.1 1083.8,268.8 1091.7,265.0 1099.2,167.9 1107.1,172.7 1115.0,144.2 1122.7,155.0 1130.0,176.3 1137.9,154.6 1145.6,163.8 1153.3,160.8 1161.3,165.4 1168.5,170.0" fill="none" stroke="#ffffff" stroke-width="1.9" stroke-linejoin="miter" stroke-miterlimit="3"/>
<!-- arrows -->
<g fill="none" stroke="#f2f2f2" stroke-width="1.5" stroke-linecap="round">
<path d="M553.6,120.7 C518,91 452,92 420.5,112.8"/>
<path d="M664,166.8 C680,185 688,210 676.8,233.5"/>
</g>
<g fill="#f2f2f2" stroke="#f2f2f2" stroke-width="0.6" stroke-linejoin="round">
<path d="M418.9,113.6 L420.7,110.2 L423.1,115.0 Z"/>
<path d="M676.2,236.2 L674.2,232.0 L679.8,233.7 Z"/>
</g>
<!-- titles -->
<text x="640.6" y="45.6" text-anchor="middle" font-size="25.5" font-weight="bold" fill="#ffffff" textLength="533.7" lengthAdjust="spacingAndGlyphs">Bitcoin: Realized Profits by Whales* - Cohort</text>
<!-- legend -->
<circle cx="495.2" cy="70.6" r="8.2" fill="#7b7bf6"/>
<text x="509.4" y="77.7" font-size="16" fill="#ececec" textLength="86.2" lengthAdjust="spacingAndGlyphs">New Whales</text>
<circle cx="624.5" cy="70.6" r="8.2" fill="#aa2863"/>
<text x="638.4" y="77.7" font-size="16" fill="#ececec" textLength="79.6" lengthAdjust="spacingAndGlyphs">Old Whales</text>
<line x1="737.3" y1="73.6" x2="756.9" y2="73.6" stroke="#ececec" stroke-width="1.6"/>
<text x="761.6" y="77.7" font-size="16" fill="#ececec" textLength="32.8" lengthAdjust="spacingAndGlyphs">Price</text>
<!-- annotations -->
<text x="189.5" y="86.1" text-anchor="middle" class="an" textLength="147.4" lengthAdjust="spacingAndGlyphs">Primarily new whales</text>
<text x="191.2" y="106.8" text-anchor="middle" class="an" textLength="118.5" lengthAdjust="spacingAndGlyphs">are taking profits</text>
<text x="1061.8" y="86.5" text-anchor="middle" class="an" textLength="147.5" lengthAdjust="spacingAndGlyphs">Primarily new whales</text>
<text x="1064" y="106.9" text-anchor="middle" class="an" textLength="118.7" lengthAdjust="spacingAndGlyphs">are taking profits</text>
<text x="638.1" y="130.3" text-anchor="middle" class="an" textLength="137.3" lengthAdjust="spacingAndGlyphs">Profit-Taking Spikes</text>
<text x="639.9" y="150.7" text-anchor="middle" class="an" textLength="172.6" lengthAdjust="spacingAndGlyphs">Attributed to Old Whales</text>
<text x="377.2" y="120" text-anchor="middle" font-size="13" fill="#e4e4e4" textLength="69.9" lengthAdjust="spacingAndGlyphs">$811 million</text>
<text x="654" y="260.9" text-anchor="middle" font-size="13" fill="#e4e4e4" textLength="70.6" lengthAdjust="spacingAndGlyphs">$255 million</text>
<!-- left axis labels -->
<text x="99.5" y="209" text-anchor="end" class="yl">500M</text>
<text x="99.6" y="336.3" text-anchor="end" class="yl">0</text>
<text x="99.3" y="464" text-anchor="end" class="yl">-500M</text>
<text x="99.6" y="591.3" text-anchor="end" class="yl">-1B</text>
<text transform="translate(44.4,378) rotate(-90)" text-anchor="middle" class="yl" textLength="99.5" lengthAdjust="spacingAndGlyphs">Realized Profit</text>
<!-- right axis labels -->
<text x="1192.2" y="161" class="yl" textLength="35.3" lengthAdjust="spacingAndGlyphs">104K</text>
<text x="1191.6" y="286.2" class="yl" textLength="26.2" lengthAdjust="spacingAndGlyphs">96K</text>
<text x="1191.6" y="410.7" class="yl" textLength="26.2" lengthAdjust="spacingAndGlyphs">88K</text>
<text x="1191.6" y="535.2" class="yl" textLength="26.2" lengthAdjust="spacingAndGlyphs">80K</text>
<text x="1191.9" y="659.7" class="yl" textLength="25.8" lengthAdjust="spacingAndGlyphs">72K</text>
<text transform="translate(1236.2,378.3) rotate(90)" text-anchor="middle" class="yl" textLength="57.5" lengthAdjust="spacingAndGlyphs">Price ($)</text>
<!-- footer -->
<text x="645.2" y="702.1" text-anchor="middle" font-size="13" fill="#97969b" textLength="269.5" lengthAdjust="spacingAndGlyphs">*Excludes Exchange and Mining Pool Addresses.</text>
<text x="1168" y="701.9" text-anchor="middle" font-size="11" fill="#8a898e" textLength="160.3" lengthAdjust="spacingAndGlyphs">&#169; CryptoQuant. All rights reserved</text>
</svg>
</body></html>
